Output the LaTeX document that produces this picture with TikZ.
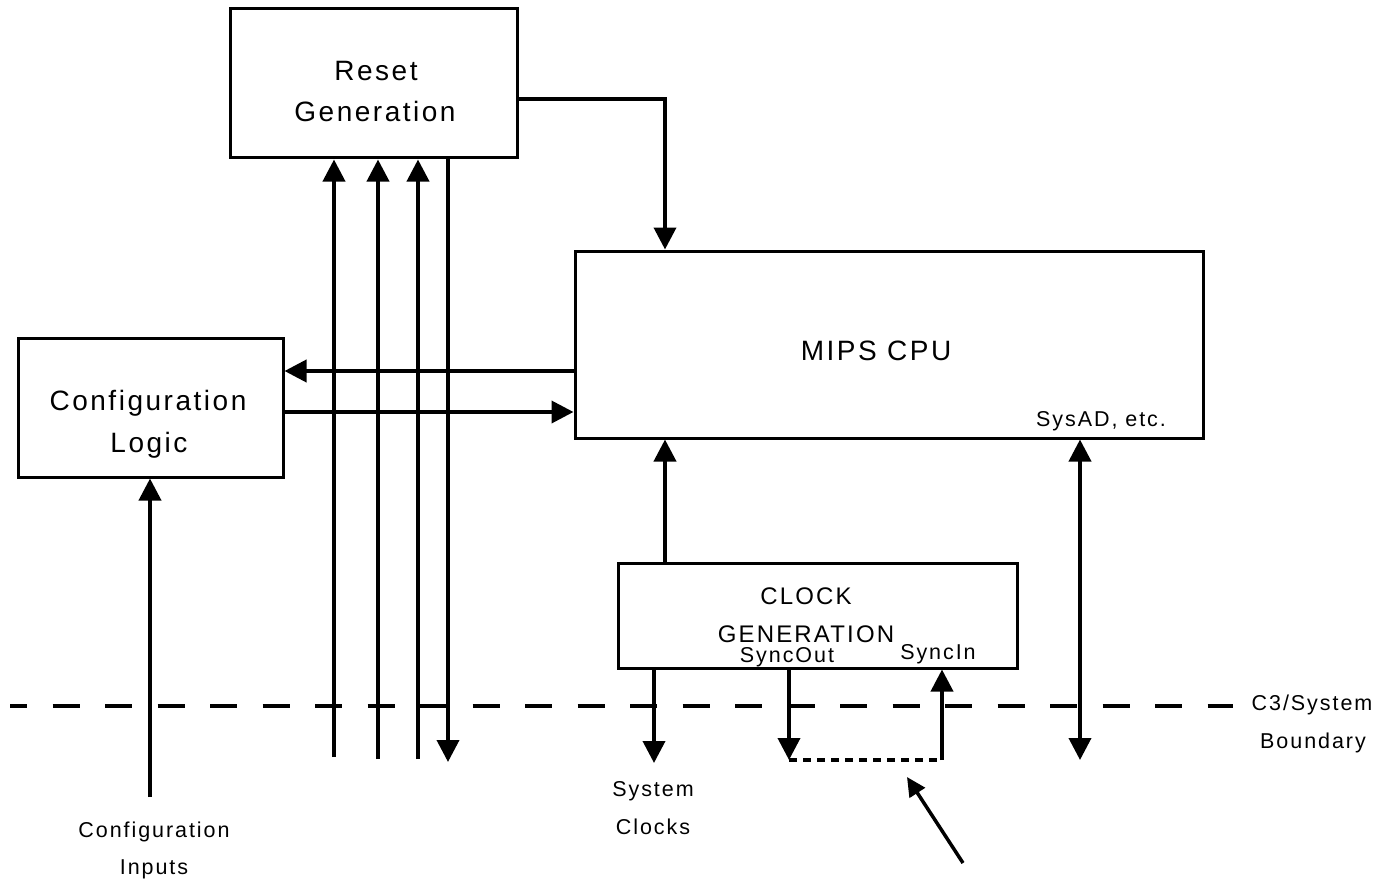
\documentclass[tikz,border=0pt]{standalone}
\usepackage{fontspec}
\setmainfont{Liberation Sans}[LetterSpace=9]
\usetikzlibrary{arrows.meta}
\tikzset{
  blk/.style={draw, line width=3pt, inner sep=0pt, minimum width=#1},
  big/.style={font=\fontsize{28}{30}\selectfont, inner sep=0pt, anchor=base},
  med/.style={font=\fontsize{24}{26}\selectfont, inner sep=0pt, anchor=base},
  sml/.style={font=\fontsize{21.5}{24}\selectfont, inner sep=0pt, anchor=base},
  wire/.style={line width=3.8pt},
  arr/.style={wire, -{Triangle[width=22pt,length=22pt]}},
  darr/.style={wire, {Triangle[width=22pt,length=22pt]}-{Triangle[width=22pt,length=22pt]}},
  parr/.style={line width=3.5pt, -{Triangle[width=18pt,length=19pt]}},
  bound/.style={line width=3.5pt, dash pattern=on 27pt off 25.5pt, dash phase=10pt},
  loopdash/.style={line width=3.8pt, dash pattern=on 8pt off 6pt},
}
\begin{document}
\begin{tikzpicture}[x=1pt,y=-1pt]
\useasboundingbox (0,0) rectangle (1395,880);

% boxes
\node[blk=287pt, minimum height=149pt] (reset) at (373.5,83.5) {};
\node[blk=628pt, minimum height=187pt] (cpu) at (889,344.5) {};
\node[blk=265pt, minimum height=139pt] (cfg) at (150.5,407.5) {};
\node[blk=399pt, minimum height=105pt] (clk) at (817.5,615.5) {};

% texts
\node[big] (t1) at (376,81) {Reset};
\node[big] (t2) at (375,122) {Generation};
\node[big] (t3) at (876,360) {MIPS CPU};
\node[sml] (t4) at (1101,426) {SysAD, etc.};
\node[big] (t5) at (148,410) {Configuration};
\node[big] (t6) at (149,452) {Logic};
\node[med] (t7) at (806,604) {CLOCK};
\node[med] (t8) at (806,642) {GENERATION};
\node[sml] (t9) at (787,662) {SyncOut};
\node[sml] (t10) at (938,659) {SyncIn};
\node[sml] (t11) at (1312,710) {C3/System};
\node[sml] (t12) at (1313,748) {Boundary};
\node[sml] (t13) at (653,796) {System};
\node[sml] (t14) at (653,834) {Clocks};
\node[sml] (t15) at (154,837) {Configuration};
\node[sml] (t16) at (154,874) {Inputs};

% free ends
\coordinate (ci) at (150,797);
\coordinate (b1) at (334,757);
\coordinate (b2) at (378,759);
\coordinate (b3) at (418,759);
\coordinate (b4) at (448,762);
\coordinate (sc) at (654,763);
\coordinate (so) at (789,760);
\coordinate (si) at (942,760);
\coordinate (sa) at (1080,760);
\coordinate (bl) at (10,706);
\coordinate (br) at (1233,706);
\coordinate (pt) at (963,863);
\coordinate (ph) at (907,777);

% boundary
\draw[bound] (bl) -- (br);

% connectors
\draw[arr] (reset.east |- 0,99) -| (cpu.north -| 665,0);
\draw[arr] (cpu.west |- 0,371) -- (cfg.east |- 0,371);
\draw[arr] (cfg.east |- 0,412) -- (cpu.west |- 0,412);
\draw[arr] (ci) -- (cfg.south -| ci);
\draw[arr] (b1) -- (b1 |- reset.south);
\draw[arr] (b2) -- (b2 |- reset.south);
\draw[arr] (b3) -- (b3 |- reset.south);
\draw[arr] (b4 |- reset.south) -- (b4);
\draw[arr] (clk.north -| 665,0) -- (cpu.south -| 665,0);
\draw[arr] (clk.south -| sc) -- (sc);
\draw[arr] (clk.south -| so) -- (so);
\draw[loopdash] (so) -- (si);
\draw[arr] (si) -- (si |- clk.south);
\draw[darr] (cpu.south -| sa) -- (sa);
\draw[parr] (pt) -- (ph);
\end{tikzpicture}
\end{document}
